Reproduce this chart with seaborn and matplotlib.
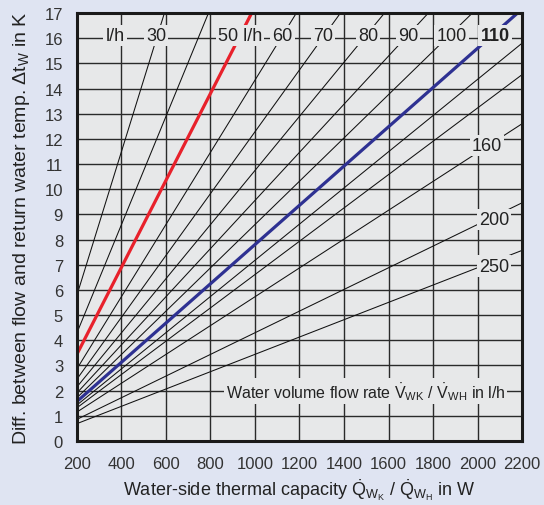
import matplotlib
matplotlib.use("Agg")
import matplotlib.pyplot as plt
import seaborn as sns
import pandas as pd

# ---- data ----
line_ids   = ["30", "40", "50", "60", "70", "80", "90", "100", "110", "120", "130", "150", "200", "250"]
q_start    = [200, 200, 200, 200, 200, 200, 200, 200, 200, 200, 200, 200, 200, 200]
dt_start   = [5.8, 4.3, 3.45, 2.87, 2.46, 2.15, 1.91, 1.72, 1.57, 1.43, 1.32, 1.15, 0.86, 0.69]
q_end      = [593, 791, 985, 1186, 1384, 1582, 1779, 1977, 2180, 2200, 2200, 2200, 2200, 2200]
dt_end     = [17, 17, 17, 17, 17, 17, 17, 17, 17, 15.8, 14.55, 12.6, 9.46, 7.57]

top_labels   = ["l/h", "30", "50 l/h", "60", "70", "80", "90", "100", "110"]
top_label_q  = [371, 555, 933, 1124, 1306, 1508, 1688, 1884, 2079]
top_label_dt = 16.1

side_labels   = ["160", "200", "250"]
side_label_q  = [2043, 2074, 2074]
side_label_dt = [11.75, 8.8, 6.95]

x_ticks = list(range(200, 2201, 200))
y_ticks = list(range(0, 18))

FIG_BG = "#dfe4f2"
AX_BG = "#e7e8e9"

sns.set_theme(style="white")
plt.rcParams["font.family"] = ["Liberation Sans", "DejaVu Sans"]
plt.rcParams["mathtext.fontset"] = "custom"
plt.rcParams["mathtext.rm"] = "Liberation Sans"
plt.rcParams["mathtext.it"] = "Liberation Sans:italic"
plt.rcParams["mathtext.bf"] = "Liberation Sans:bold"

fig = plt.figure(figsize=(5.44, 5.06), dpi=100, facecolor=FIG_BG)
ax = fig.add_axes([0.1415, 0.1265, 0.9596 - 0.1415, 0.9723 - 0.1265])
ax.set_facecolor(AX_BG)

rows = []
for lid, q0, t0, q1, t1 in zip(line_ids, q_start, dt_start, q_end, dt_end):
    rows.append({"line": lid, "Q": q0, "dT": t0})
    rows.append({"line": lid, "Q": q1, "dT": t1})
df = pd.DataFrame(rows)

for lid, g in df.groupby("line", sort=False):
    if lid == "50":
        color, lw, z = "#e8212b", 2.3, 4
    elif lid == "110":
        color, lw, z = "#2e3192", 2.3, 4
    else:
        color, lw, z = "#111111", 0.75, 3
    sns.lineplot(data=g, x="Q", y="dT", ax=ax, color=color, linewidth=lw,
                 sort=False, estimator=None, zorder=z, legend=False)

ax.set_xlim(200, 2200)
ax.set_ylim(0, 17)
ax.set_xticks(x_ticks)
ax.set_yticks(y_ticks)
ax.grid(True, color="#2a2a2a", linewidth=1.0, zorder=1)
ax.set_axisbelow(True)
ax.tick_params(length=0, labelsize=12, labelcolor="#333333")
ax.tick_params(axis="x", pad=11)
ax.tick_params(axis="y", pad=10)

for s in ax.spines.values():
    s.set_color("#1a1a1a")
    s.set_linewidth(2.2)
    s.set_zorder(6)

bbox = dict(boxstyle="square,pad=0.12", fc=AX_BG, ec="none")
for txt, q in zip(top_labels, top_label_q):
    ax.text(q, top_label_dt, txt, ha="center", va="center", fontsize=13,
            color="#222222", fontweight="bold" if txt == "110" else "normal",
            bbox=bbox, zorder=5)
for txt, q, t in zip(side_labels, side_label_q, side_label_dt):
    ax.text(q, t, txt, ha="center", va="center", fontsize=13, color="#222222",
            bbox=bbox, zorder=5)

ax.text(1497, 1.98,
        r"Water volume flow rate $\dot{\mathrm{V}}_{\mathrm{WK}}$ / $\dot{\mathrm{V}}_{\mathrm{WH}}$ in l/h",
        ha="center", va="center", fontsize=11.5, color="#222222", bbox=bbox, zorder=5)

ax.set_xlabel(r"Water-side thermal capacity $\dot{\mathrm{Q}}_{\mathrm{W_K}}$ / $\dot{\mathrm{Q}}_{\mathrm{W_H}}$ in W",
              fontsize=13, color="#222222", labelpad=4)
ax.set_ylabel(r"Diff. between flow and return water temp. $\Delta$t$_{\mathrm{W}}$ in K",
              fontsize=14, color="#222222", labelpad=9)

fig.savefig("out.png", dpi=100, facecolor=FIG_BG)
